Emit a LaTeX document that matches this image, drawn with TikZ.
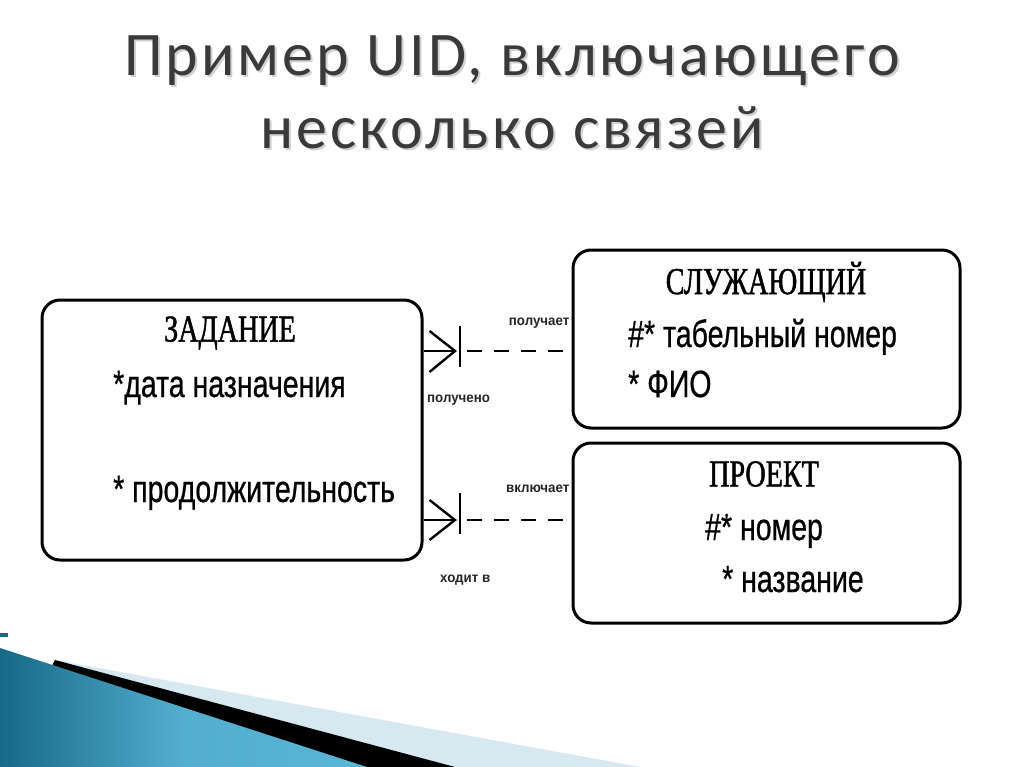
\documentclass[tikz,border=0pt]{standalone}
\usepackage{fontspec}
\setmainfont{Carlito}
\newfontfamily\titlefont[LetterSpace=5]{Carlito}
\newfontfamily\entfont[FakeStretch=0.74,FakeBold=1.2]{Liberation Serif}
\newfontfamily\attrfont[FakeStretch=0.75,FakeBold=0.6]{Liberation Sans}
\newfontfamily\lblfont[FakeStretch=0.95]{Liberation Sans Bold}
\usetikzlibrary{calc}
\definecolor{titlegray}{RGB}{58,58,58}
\definecolor{tealdark}{RGB}{22,105,135}
\definecolor{teallight}{RGB}{90,182,214}
\definecolor{paleblue}{RGB}{214,232,240}
\tikzset{
  entity/.style={draw=black, line width=3pt, rounded corners=18pt, inner sep=0pt},
  enttitle/.style={font=\entfont\fontsize{38}{40}\selectfont, anchor=center, inner sep=0pt},
  attr/.style={font=\attrfont\fontsize{38}{40}\selectfont, anchor=base west, inner sep=0pt},
  lbl/.style={font=\lblfont\fontsize{14}{15}\selectfont, inner sep=0pt, text=black!85},
  rel/.style={line width=2.6pt, dash pattern=on 15pt off 12pt},
  foot/.style={line width=2.4pt},
  titletext/.style={font=\titlefont\fontsize{62}{66}\selectfont, inner sep=0pt, anchor=center}
}
\begin{document}
\begin{tikzpicture}[x=1pt,y=-1pt]
\useasboundingbox (0,0) rectangle (1024,767);
\fill[white] (0,0) rectangle (1024,767);
% title
\node[titletext, text=black!18] (t1s) at (514,63) {Пример UID, включающего};
\node[titletext, text=black!18] (t2s) at (514,130) {несколько связей};
\node[titletext, text=titlegray] (t1) at (512,61) {Пример UID, включающего};
\node[titletext, text=titlegray] (t2) at (512,128) {несколько связей};
% decoration bottom-left
\fill[paleblue] (55,660) -- (640,767) -- (0,767) -- cycle;
\fill[black] (55,660) -- (455,767) -- (0,767) -- cycle;
\shade[left color=tealdark, right color=teallight, middle color=teallight!90!tealdark] (0,648) -- (367,767) -- (0,767) -- cycle;
\fill[tealdark] (0,633) rectangle (8,637);
% entities
\node[entity, minimum width=380pt, minimum height=260pt] (zad) at (232,430) {};
\node[entity, minimum width=387pt, minimum height=178pt] (slu) at (766.5,339) {};
\node[entity, minimum width=387pt, minimum height=180pt] (pro) at (766.5,533) {};
% ЗАДАНИЕ texts
\node[enttitle] (zadt) at (230,333) {ЗАДАНИЕ};
\node[attr] (zada1) at (113,397) {*дата назначения};
\node[attr] (zada2) at (113,502) {* продолжительность};
% СЛУЖАЮЩИЙ texts
\node[enttitle] (slut) at (766,282) {СЛУЖАЮЩИЙ};
\node[attr] (slua1) at (628,347) {\#* табельный номер};
\node[attr] (slua2) at (628,397) {* ФИО};
% ПРОЕКТ texts
\node[enttitle] (prot) at (764,474) {ПРОЕКТ};
\node[attr] (proa1) at (705,540) {\#* номер};
\node[attr] (proa2) at (722,592) {* название};
% relationship 1
\coordinate (f1) at (455,351);
\coordinate (b1t) at (460,326);
\coordinate (b1b) at (460,367);
\coordinate (d1) at (467,351);
\draw[foot] (zad.east |- f1) -- (f1);
\draw[foot] ($(zad.east |- f1)+(6,-20)$) -- (f1) -- ($(zad.east |- f1)+(6,21)$);
\draw[foot] (b1t) -- (b1b);
\draw[rel] (d1) -- ($(slu.west |- d1)+(-9,0)$);
\node[lbl, anchor=base east] (l1) at ($(slu.west |- f1)+(-2,-26)$) {получает};
\node[lbl, anchor=base west] (l2) at (427,402) {получено};
% relationship 2
\coordinate (f2) at (455,520);
\coordinate (b2t) at (460,493);
\coordinate (b2b) at (460,534);
\coordinate (d2) at (467,520);
\draw[foot] (zad.east |- f2) -- (f2);
\draw[foot] ($(zad.east |- f2)+(6,-20)$) -- (f2) -- ($(zad.east |- f2)+(6,20)$);
\draw[foot] (b2t) -- (b2b);
\draw[rel] (d2) -- ($(pro.west |- d2)+(-9,0)$);
\node[lbl, anchor=base east] (l3) at ($(pro.west |- f2)+(-2,-28)$) {включает};
\node[lbl, anchor=base west] (l4) at (440,582) {ходит в};
\end{tikzpicture}
\end{document}
